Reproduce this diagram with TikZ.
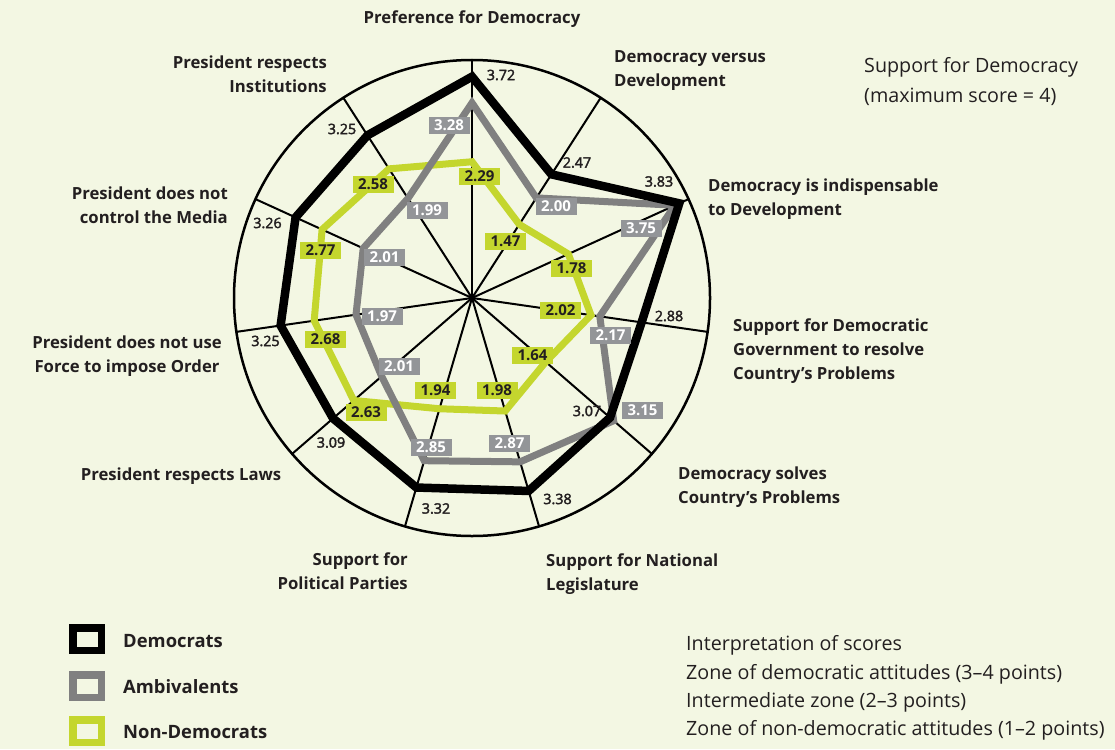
\documentclass[tikz,border=0pt]{standalone}
\usepackage{fontspec}
\setmainfont{Open Sans}
\newfontfamily\semifam[FakeBold=2.5]{Open Sans}
\usetikzlibrary{calc}
\definecolor{bg}{RGB}{243,247,227}
\definecolor{txt}{RGB}{35,31,32}
\definecolor{gline}{RGB}{128,128,128}
\definecolor{gbox}{RGB}{147,149,152}
\definecolor{lime}{RGB}{196,214,46}
\begin{document}
\begin{tikzpicture}[x=1pt,y=-1pt,
  spoke/.style={line width=2pt, black},
  ring/.style={line width=2.5pt, black},
  dem/.style={line width=8.5pt, black, line join=miter},
  amb/.style={line width=7pt, gline, line join=miter},
  nond/.style={line width=7pt, lime, line join=miter},
  dval/.style={font=\semifam\fontsize{14.3}{16}\selectfont, text=txt, inner sep=0pt},
  boxval/.style={font=\bfseries\fontsize{15}{17}\selectfont, minimum width=41pt, minimum height=17pt, inner sep=0pt},
  aval/.style={boxval, fill=gbox, text=white},
  nval/.style={boxval, fill=lime, text=txt},
  axl/.style={font=\bfseries\fontsize{16.7}{24}\selectfont, text=txt, inner sep=0pt},
  leg/.style={line width=7.5pt, minimum width=28.5pt, minimum height=22.5pt, inner sep=0pt, fill=bg},
  legt/.style={font=\bfseries\fontsize{18.4}{20}\selectfont, text=txt, inner sep=0pt, anchor=west},
  note/.style={font=\fontsize{19.7}{28.2}\selectfont, text=txt, inner sep=0pt, align=left}
]
\useasboundingbox[fill=bg] (0,0) rectangle (1115,749);
\coordinate (c) at (472,298);
% spokes and ring
\foreach \i in {0,...,10} {
  \coordinate (o\i) at ($(c)+({-90+\i*360/11}:238)$);
  \draw[spoke] (c) -- (o\i);
}
\draw[ring] (c) circle[radius=238pt];
% data vertices
\foreach \v [count=\j from 0] in {3.72,2.47,3.83,2.88,3.07,3.38,3.32,3.09,3.25,3.26,3.25}
  \coordinate (d\j) at ($(c)+({-90+\j*360/11}:\v*59.5)$);
\foreach \v [count=\j from 0] in {3.28,2.00,3.75,2.17,3.15,2.87,2.85,2.01,1.97,2.01,1.99}
  \coordinate (a\j) at ($(c)+({-90+\j*360/11}:\v*59.5)$);
\foreach \v [count=\j from 0] in {2.29,1.47,1.78,2.02,1.64,1.98,1.94,2.63,2.68,2.77,2.58}
  \coordinate (n\j) at ($(c)+({-90+\j*360/11}:\v*59.5)$);
\draw[nond] (n0) \foreach \j in {1,...,10}{ -- (n\j) } -- cycle;
\draw[amb] (a0) \foreach \j in {1,...,10}{ -- (a\j) } -- cycle;
\draw[dem] (d0) \foreach \j in {1,...,10}{ -- (d\j) } -- cycle;
% Democrats values
\node[dval] (dl0) at (501,75) {3.72};
\node[dval] (dl1) at (577,162.5) {2.47};
\node[dval] (dl2) at (659,181.5) {3.83};
\node[dval] (dl3) at (669,316) {2.88};
\node[dval] (dl4) at (587,411) {3.07};
\node[dval] (dl5) at (557.5,499) {3.38};
\node[dval] (dl6) at (436,508.5) {3.32};
\node[dval] (dl7) at (331,442.5) {3.09};
\node[dval] (dl8) at (265.5,341) {3.25};
\node[dval] (dl9) at (267.5,223) {3.26};
\node[dval] (dl10) at (342,129) {3.25};
% Ambivalents values
\node[aval] (al0) at (449,125.5) {3.28};
\node[aval] (al1) at (556,206.5) {2.00};
\node[aval] (al2) at (641,228.5) {3.75};
\node[aval] (al3) at (610.5,335) {2.17};
\node[aval] (al4) at (642.5,410.5) {3.15};
\node[aval] (al5) at (509.5,443.5) {2.87};
\node[aval] (al6) at (431,447.5) {2.85};
\node[aval] (al7) at (399,366.5) {2.01};
\node[aval] (al8) at (382,316) {1.97};
\node[aval] (al9) at (384.5,257) {2.01};
\node[aval] (al10) at (427,210.5) {1.99};
% Non-Democrats values
\node[nval] (nl0) at (479.5,176) {2.29};
\node[nval] (nl1) at (505.5,241.5) {1.47};
\node[nval] (nl2) at (571.5,268.5) {1.78};
\node[nval] (nl3) at (560.5,310) {2.02};
\node[nval] (nl4) at (532.5,355) {1.64};
\node[nval] (nl5) at (497,390) {1.98};
\node[nval] (nl6) at (435.5,390) {1.94};
\node[nval] (nl7) at (366,412) {2.63};
\node[nval] (nl8) at (325.5,339.5) {2.68};
\node[nval] (nl9) at (320.5,250) {2.77};
\node[nval] (nl10) at (373,184.5) {2.58};
% axis labels
\node[axl] (t0) at (472,19) {Preference for Democracy};
\node[axl, align=left, anchor=west] (t1) at (614,71) {Democracy versus\\Development};
\node[axl, align=left, anchor=west] (t2) at (708,199) {Democracy is indispensable\\to Development};
\node[axl, align=left, anchor=west] (t3) at (733,351) {Support for Democratic\\Government to resolve\\Country's Problems};
\node[axl, align=left, anchor=west] (t4) at (678,487) {Democracy solves\\Country's Problems};
\node[axl, align=left, anchor=west] (t5) at (546,574) {Support for National\\Legislature};
\node[axl, align=right, anchor=east] (t6) at (408,571) {Support for\\Political Parties};
\node[axl] (t7) at (181,476) {President respects Laws};
\node[axl, align=center] (t8) at (127,356) {President does not use\\Force to impose Order};
\node[axl, align=right, anchor=east] (t9) at (228,205) {President does not\\control the Media};
\node[axl, align=right, anchor=east] (t10) at (327,74) {President respects\\Institutions};
% title note
\node[note, anchor=west, font=\fontsize{19.7}{30}\selectfont] (title) at (864,82) {Support for Democracy\\(maximum score = 4)};
% legend
\node[leg, draw=black] (kD) at (87,639) {};
\node[leg, draw=gline] (kA) at (87,686) {};
\node[leg, draw=lime] (kN) at (87,731) {};
\node[legt] (kDt) at (123,641) {Democrats};
\node[legt] (kAt) at (123,687) {Ambivalents};
\node[legt] (kNt) at (123,732) {Non-Democrats};
% interpretation
\node[note, anchor=west] (interp) at (686,688) {Interpretation of scores\\Zone of democratic attitudes (3\textendash4 points)\\Intermediate zone (2\textendash3 points)\\Zone of non-democratic attitudes (1\textendash2 points)};
\end{tikzpicture}
\end{document}
